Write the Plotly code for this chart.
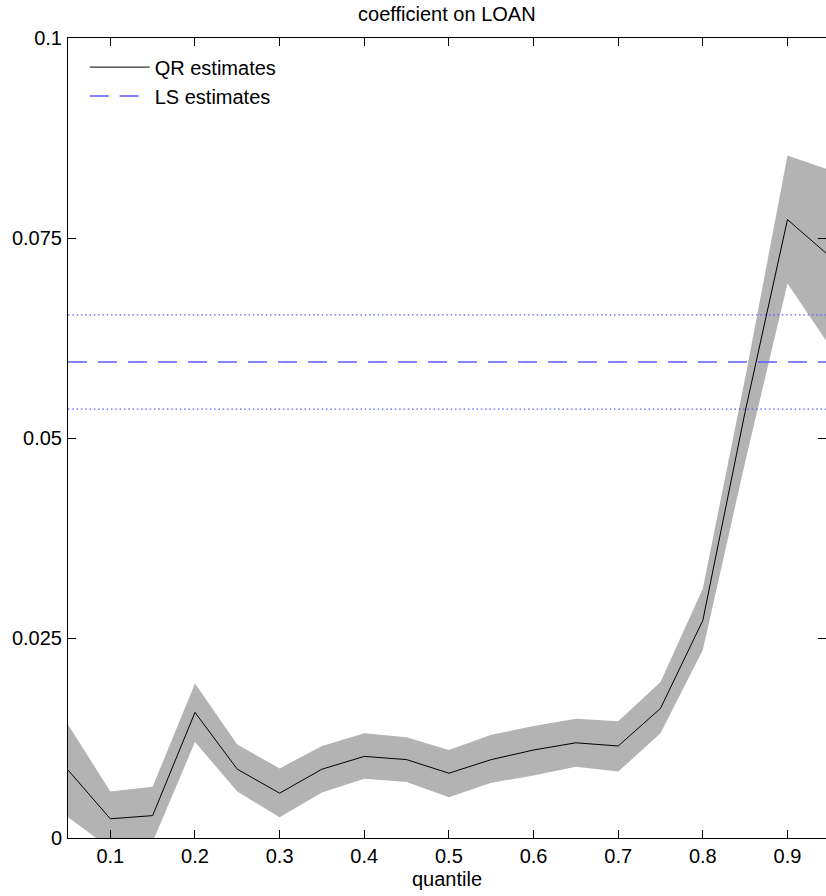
import plotly.graph_objects as go

# quantile grid and QR estimates with confidence band
quantiles = [0.05, 0.10, 0.15, 0.20, 0.25, 0.30, 0.35, 0.40, 0.45, 0.50,
             0.55, 0.60, 0.65, 0.70, 0.75, 0.80, 0.85, 0.90, 0.95]
qr_coef = [0.0085, 0.0024, 0.0028, 0.0157, 0.0086, 0.0056, 0.0086, 0.0102, 0.0098, 0.0081,
           0.0098, 0.0110, 0.0119, 0.0115, 0.0162, 0.0272, 0.0533, 0.0773, 0.0727]
qr_upper = [0.0142, 0.0058, 0.0064, 0.0193, 0.0117, 0.0087, 0.0115, 0.0131, 0.0126, 0.0110,
            0.0129, 0.0140, 0.0149, 0.0146, 0.0195, 0.0312, 0.0575, 0.0853, 0.0835]
qr_lower = [0.0026, -0.0013, -0.0005, 0.0120, 0.0058, 0.0026, 0.0057, 0.0074, 0.0070, 0.0051,
            0.0069, 0.0078, 0.0089, 0.0083, 0.0131, 0.0235, 0.0470, 0.0693, 0.0615]

# least squares estimate and its band
ls_coef = 0.0595
ls_upper = 0.0654
ls_lower = 0.0536

FONT = 'Liberation Sans, Arial, sans-serif'
BLUE = '#5c5cff'

fig = go.Figure()
fig.add_trace(go.Scatter(
    x=quantiles + quantiles[::-1],
    y=qr_upper + qr_lower[::-1],
    fill='toself', fillcolor='#b3b3b3',
    line=dict(width=0), mode='lines',
    showlegend=False, hoverinfo='skip'
))
fig.add_trace(go.Scatter(
    x=quantiles, y=qr_coef, mode='lines', name='QR estimates',
    line=dict(color='black', width=1)
))
ends = [quantiles[0], quantiles[-1]]
fig.add_trace(go.Scatter(
    x=ends, y=[ls_coef] * 2, mode='lines', name='LS estimates',
    line=dict(color=BLUE, width=1.5, dash='19px,11px')
))
for v in (ls_upper, ls_lower):
    fig.add_trace(go.Scatter(
        x=ends, y=[v] * 2, mode='lines', showlegend=False,
        line=dict(color=BLUE, width=1.2, dash='1.5px,2.8px')
    ))

axis_style = dict(
    showline=True, linecolor='black', linewidth=1, mirror='ticks',
    ticks='inside', ticklen=8, tickcolor='black', showgrid=False,
    zeroline=False, tickfont=dict(size=20, color='black')
)
fig.update_layout(
    width=826, height=896,
    font=dict(family=FONT, color='black', size=20),
    plot_bgcolor='white', paper_bgcolor='white',
    title=dict(text='coefficient on LOAN', x=0.541, xanchor='center',
               y=0.984, yanchor='middle', font=dict(size=20)),
    xaxis=dict(range=[0.05, 0.9455], tickvals=[0.1, 0.2, 0.3, 0.4, 0.5, 0.6, 0.7, 0.8, 0.9],
               ticktext=['0.1', '0.2', '0.3', '0.4', '0.5', '0.6', '0.7', '0.8', '0.9'],
               title=dict(text='quantile', font=dict(size=20), standoff=5), **axis_style),
    yaxis=dict(range=[0, 0.1], tickvals=[0, 0.025, 0.05, 0.075, 0.1],
               ticktext=['0', '0.025', '0.05', '0.075', '0.1'], ticklabelstandoff=1,
               **axis_style),
    legend=dict(x=0.022, y=0.988, xanchor='left', yanchor='top',
                bgcolor='rgba(0,0,0,0)', font=dict(size=20), itemwidth=60,
                tracegroupgap=0),
    margin=dict(l=68, r=0, t=38, b=58)
)
fig.write_html('out.html', config={'displayModeBar': False},
               post_script="document.body.style.margin='0';"
               "document.body.style.overflow='hidden';")
